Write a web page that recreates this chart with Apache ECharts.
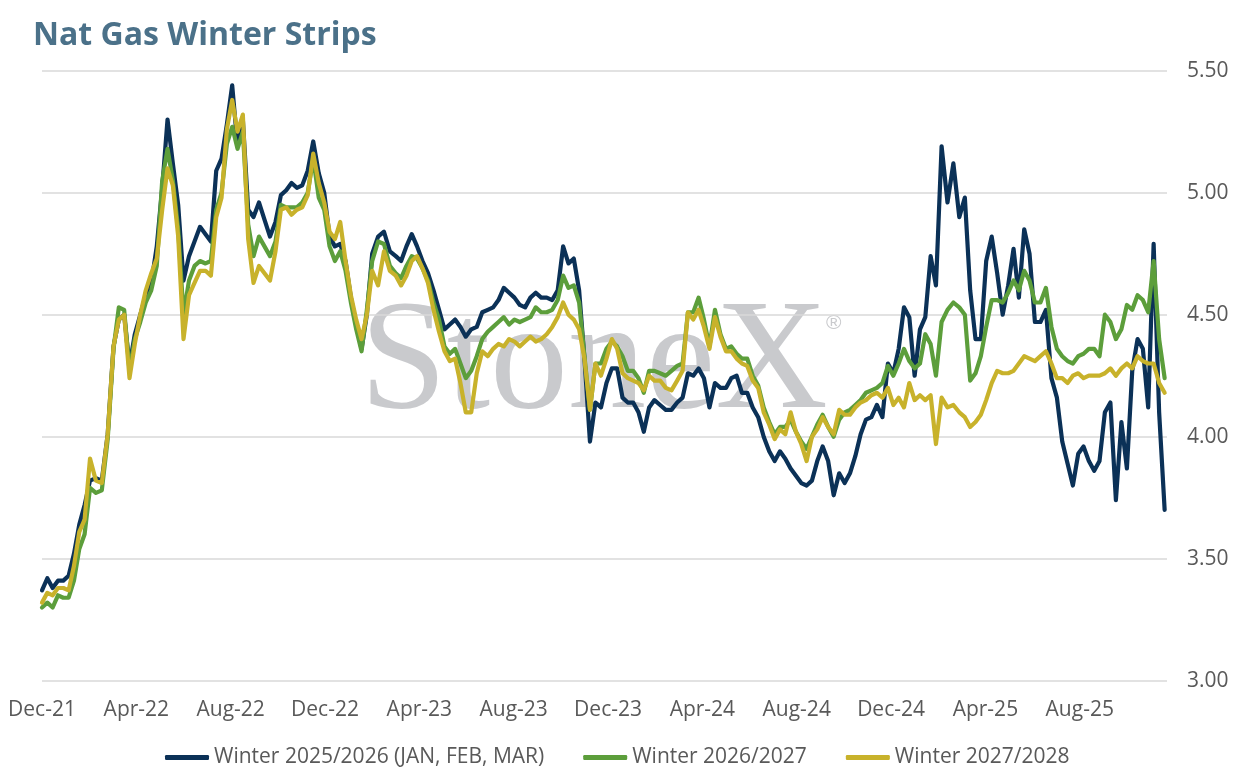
<!DOCTYPE html>
<html>
<head>
<meta charset="utf-8">
<script src="https://cdn.jsdelivr.net/npm/echarts@6/dist/echarts.min.js"></script>
<style>
html,body{margin:0;padding:0;background:#ffffff;}
#chart{width:1238px;height:775px;}
</style>
</head>
<body>
<div id="chart"></div>
<script>
// ---- data (weekly samples starting 2021-12-01) ----
const startDate = '2021-12-01';
const tickLabels = ['Dec-21','Apr-22','Aug-22','Dec-22','Apr-23','Aug-23','Dec-23','Apr-24','Aug-24','Dec-24','Apr-25','Aug-25'];
const seriesNames = ['Winter 2025/2026 (JAN, FEB, MAR)','Winter 2026/2027','Winter 2027/2028'];

const winter2526 = [
3.37,3.42,3.38,3.41,3.41,3.43,3.52,3.64,3.72,3.82,
3.83,3.82,4.01,4.37,4.48,4.50,4.29,4.42,4.50,4.58,
4.63,4.78,5.02,5.30,5.12,4.95,4.64,4.74,4.80,4.86,
4.83,4.80,5.09,5.14,5.28,5.44,5.19,5.30,4.93,4.90,
4.96,4.89,4.82,4.88,4.99,5.01,5.04,5.02,5.03,5.09,
5.21,5.08,5.00,4.82,4.78,4.79,4.72,4.57,4.46,4.36,
4.50,4.75,4.82,4.84,4.76,4.74,4.72,4.78,4.83,4.78,
4.72,4.67,4.60,4.52,4.44,4.46,4.48,4.45,4.41,4.44,
4.45,4.51,4.52,4.53,4.56,4.61,4.59,4.57,4.54,4.53,
4.57,4.59,4.57,4.57,4.56,4.60,4.78,4.71,4.73,4.60,
4.32,3.98,4.14,4.12,4.22,4.28,4.28,4.16,4.14,4.14,
4.10,4.02,4.12,4.15,4.13,4.11,4.11,4.14,4.16,4.26,
4.25,4.28,4.24,4.12,4.22,4.20,4.20,4.24,4.25,4.18,
4.18,4.12,4.08,4.00,3.94,3.90,3.94,3.91,3.87,3.84,
3.81,3.80,3.82,3.90,3.96,3.90,3.76,3.85,3.81,3.85,
3.92,4.01,4.07,4.08,4.13,4.08,4.30,4.26,4.36,4.53,
4.49,4.25,4.44,4.49,4.74,4.62,5.19,4.96,5.12,4.90,
4.98,4.60,4.40,4.40,4.72,4.82,4.67,4.50,4.62,4.77,
4.57,4.85,4.75,4.47,4.47,4.52,4.24,4.16,3.98,3.89,
3.80,3.93,3.96,3.90,3.86,3.90,4.10,4.14,3.74,4.06,
3.87,4.27,4.40,4.36,4.12,4.79,4.10,3.70
];

const winter2627 = [
3.30,3.32,3.30,3.35,3.34,3.34,3.41,3.54,3.60,3.79,
3.77,3.78,3.99,4.36,4.53,4.52,4.27,4.40,4.47,4.55,
4.60,4.70,5.05,5.18,5.05,4.85,4.50,4.64,4.70,4.72,
4.71,4.72,4.93,5.00,5.20,5.27,5.18,5.25,4.87,4.74,
4.82,4.78,4.74,4.80,4.95,4.94,4.94,4.94,4.96,5.00,
5.14,4.98,4.93,4.78,4.72,4.76,4.68,4.55,4.44,4.35,
4.52,4.72,4.80,4.79,4.70,4.67,4.65,4.70,4.74,4.73,
4.69,4.64,4.55,4.48,4.37,4.34,4.36,4.30,4.24,4.27,
4.33,4.40,4.43,4.45,4.47,4.49,4.46,4.48,4.47,4.48,
4.49,4.53,4.51,4.51,4.52,4.56,4.66,4.61,4.62,4.55,
4.33,4.11,4.30,4.30,4.36,4.39,4.37,4.33,4.27,4.27,
4.24,4.18,4.27,4.27,4.26,4.25,4.27,4.29,4.30,4.51,
4.51,4.57,4.48,4.37,4.52,4.42,4.36,4.37,4.34,4.32,
4.32,4.25,4.21,4.12,4.06,4.01,4.04,4.04,4.07,4.02,
3.98,3.95,4.00,4.05,4.09,4.04,4.00,4.07,4.10,4.11,
4.13,4.15,4.18,4.19,4.20,4.22,4.29,4.25,4.30,4.36,
4.31,4.28,4.30,4.42,4.38,4.25,4.47,4.52,4.55,4.53,
4.50,4.23,4.26,4.33,4.45,4.56,4.56,4.55,4.59,4.64,
4.60,4.68,4.64,4.55,4.55,4.61,4.45,4.36,4.33,4.31,
4.30,4.33,4.34,4.36,4.36,4.33,4.50,4.47,4.40,4.44,
4.54,4.52,4.58,4.56,4.51,4.72,4.40,4.24
];

const winter2728 = [
3.32,3.36,3.35,3.38,3.38,3.37,3.47,3.61,3.66,3.91,
3.82,3.81,4.01,4.37,4.48,4.50,4.24,4.38,4.50,4.60,
4.67,4.73,4.93,5.10,5.03,4.82,4.40,4.58,4.63,4.68,
4.68,4.66,4.90,4.98,5.26,5.38,5.25,5.32,4.81,4.63,
4.70,4.67,4.64,4.76,4.93,4.94,4.91,4.93,4.94,4.99,
5.16,5.04,4.96,4.84,4.81,4.88,4.72,4.58,4.48,4.40,
4.50,4.68,4.62,4.76,4.68,4.66,4.62,4.66,4.72,4.74,
4.69,4.63,4.52,4.43,4.35,4.31,4.32,4.22,4.10,4.10,
4.26,4.35,4.33,4.36,4.38,4.37,4.40,4.39,4.37,4.39,
4.41,4.39,4.40,4.42,4.45,4.49,4.55,4.50,4.48,4.44,
4.32,4.11,4.30,4.25,4.32,4.40,4.36,4.26,4.24,4.23,
4.22,4.19,4.25,4.23,4.23,4.20,4.19,4.23,4.27,4.51,
4.48,4.52,4.45,4.36,4.49,4.41,4.35,4.35,4.32,4.30,
4.29,4.23,4.20,4.10,4.05,3.99,4.03,4.01,4.10,4.02,
3.97,3.90,4.00,4.03,4.08,4.04,4.01,4.11,4.09,4.09,
4.12,4.14,4.15,4.17,4.18,4.16,4.20,4.13,4.16,4.12,
4.22,4.15,4.17,4.15,4.17,3.97,4.16,4.12,4.13,4.10,
4.08,4.04,4.06,4.09,4.15,4.22,4.27,4.26,4.26,4.27,
4.30,4.33,4.32,4.31,4.33,4.35,4.30,4.24,4.24,4.22,
4.25,4.26,4.24,4.25,4.25,4.25,4.26,4.28,4.25,4.28,
4.30,4.28,4.33,4.31,4.30,4.30,4.22,4.18
];

// ---- helpers: date -> fractional month position (0 = Dec 2021) ----
function weekDate(i){
  const p = startDate.split('-').map(Number);
  const d = new Date(Date.UTC(p[0], p[1]-1, p[2]));
  d.setUTCDate(d.getUTCDate() + 7*i);
  return d;
}
function monthPos(d){
  const y = d.getUTCFullYear(), m = d.getUTCMonth();
  const dim = new Date(Date.UTC(y, m+1, 0)).getUTCDate();
  return (y-2021)*12 + (m-11) + (d.getUTCDate()-1)/dim;
}
function pairs(arr){ return arr.map((v,i)=>[monthPos(weekDate(i)), v]); }

const colors = ['#0b3157','#5c9e3b','#c8b22b'];
const chart = echarts.init(document.getElementById('chart'));
chart.setOption({
  animation:false,
  backgroundColor:'#ffffff',
  title:{
    text:'Nat Gas Winter Strips',
    left:28, top:15,
    textStyle:{fontFamily:'Open Sans', fontWeight:'bold', fontSize:32, color:'#4b7189'}
  },
  graphic:[
    {type:'text', z:0, left:360, top:288,
     style:{text:'StoneX', font:'156px "Liberation Serif"', fill:'#c9cacd'}},
    {type:'text', z:0, left:826, top:313,
     style:{text:'®', font:'21px "Liberation Sans"', fill:'#c9cacd'}}
  ],
  legend:{
    left:160, top:742,
    itemWidth:44, itemHeight:5, itemGap:39,
    icon:'roundRect',
    textStyle:{fontFamily:'Open Sans', fontSize:21, color:'#595959'},
    data:seriesNames
  },
  grid:{left:42, right:71, top:70.7, bottom:94.3, containLabel:false},
  xAxis:{
    type:'value', min:0, max:47.7, interval:4,
    axisLine:{show:false}, axisTick:{show:false}, splitLine:{show:false},
    axisLabel:{
      margin:19, color:'#595959', fontSize:21, fontFamily:'Open Sans',
      showMaxLabel:false,
      formatter:function(v){
        const k = Math.round(v/4);
        if (Math.abs(v - k*4) > 1e-6) return '';
        return tickLabels[k] || '';
      }
    }
  },
  yAxis:{
    type:'value', position:'right', min:3, max:5.5, interval:0.5,
    axisLine:{show:false}, axisTick:{show:false},
    splitLine:{lineStyle:{color:'#d9d9d9', width:1.5}},
    axisLabel:{margin:20, color:'#595959', fontSize:21, fontFamily:'Open Sans',
      formatter:function(v){return v.toFixed(2);}}
  },
  series:[
    {name:seriesNames[0], type:'line', data:pairs(winter2526), showSymbol:false, symbol:'none',
     lineStyle:{color:colors[0], width:4.2, cap:'round', join:'round'}, itemStyle:{color:colors[0]}, z:3},
    {name:seriesNames[1], type:'line', data:pairs(winter2627), showSymbol:false, symbol:'none',
     lineStyle:{color:colors[1], width:4.2, cap:'round', join:'round'}, itemStyle:{color:colors[1]}, z:4},
    {name:seriesNames[2], type:'line', data:pairs(winter2728), showSymbol:false, symbol:'none',
     lineStyle:{color:colors[2], width:4.2, cap:'round', join:'round'}, itemStyle:{color:colors[2]}, z:5}
  ]
});
</script>
</body>
</html>
